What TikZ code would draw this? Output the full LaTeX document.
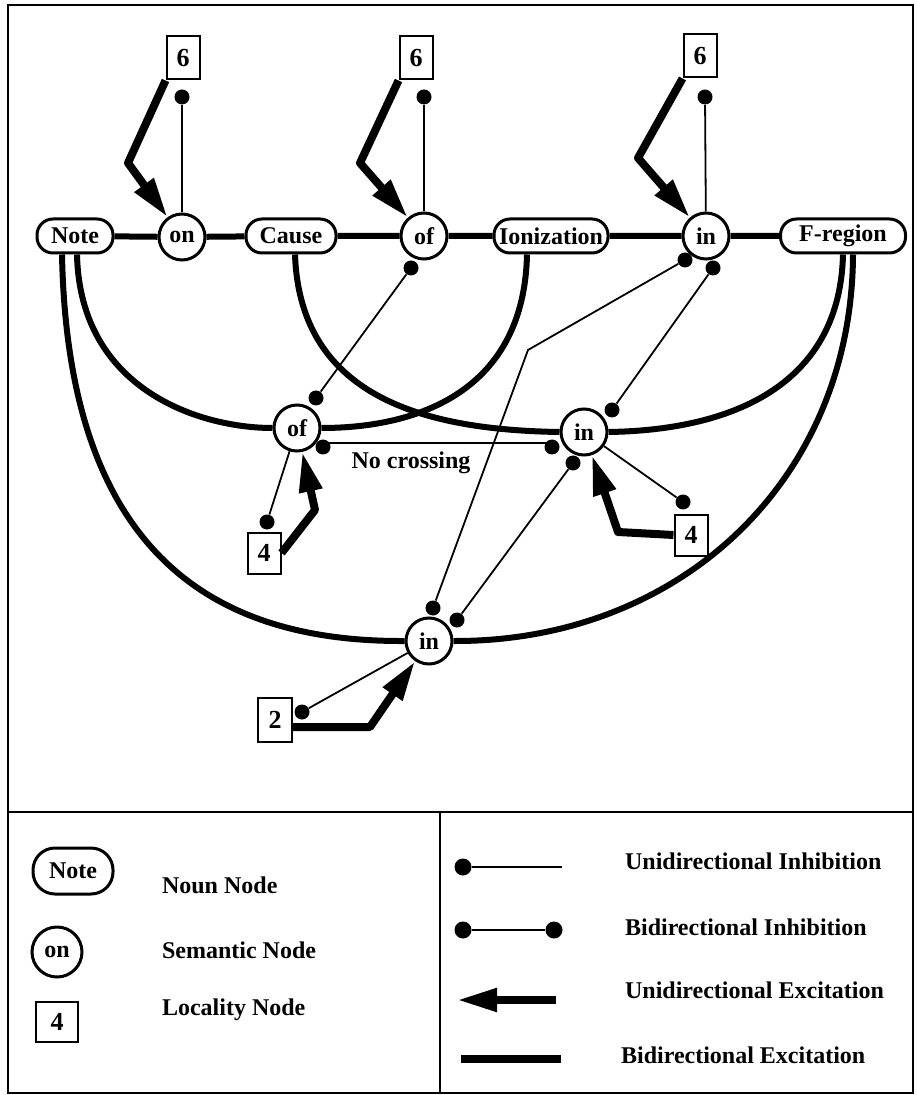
\documentclass[tikz,border=0pt]{standalone}
\usepackage{fontspec}
\setmainfont{Liberation Serif}
\usetikzlibrary{arrows.meta}
\begin{document}
\begin{tikzpicture}[x=0.5pt,y=-0.5pt,
  font=\bfseries\fontsize{12}{14}\selectfont,
  noun/.style={draw,line width=1.5pt,rounded corners=8pt,minimum height=17pt,inner sep=0pt},
  sem/.style={draw,line width=1.5pt,circle,minimum size=23pt,inner sep=0pt},
  loc/.style={draw,line width=1pt,minimum width=16.5pt,minimum height=21.5pt,inner sep=0pt,
    font=\bfseries\fontsize{13}{15}\selectfont},
  inhdot/.style={circle,fill,minimum size=7.5pt,inner sep=0pt},
  bex/.style={line width=3pt},
  uex/.style={line width=4pt,line join=round,-{Triangle[length=20pt,width=11pt]}},
  inh/.style={line width=0.9pt},
  frame/.style={line width=1pt}
]
\useasboundingbox (0,0) rectangle (916,1095);

% outer frame and legend dividers
\draw[frame] (8,5) rectangle (913,1093);
\draw[frame] (8,812) -- (913,812);
\draw[frame] (440,812) -- (440,1093);

% ---- top row: nouns and semantic nodes ----
\node[noun,minimum width=38pt] (note) at (75,236) {Note};
\node[sem] (on) at (182,237) {on};
\node[noun,minimum width=45pt] (cause) at (291,236) {Cause};
\node[sem] (ofa) at (424,236) {of};
\node[noun,minimum width=57pt] (ion) at (551,236) {Ionization};
\node[sem] (ina) at (706,236) {in};
\node[noun,minimum width=62.5pt] (freg) at (843,236) {F-region};

\draw[bex] (note) -- (on) -- (cause) -- (ofa) -- (ion) -- (ina) -- (freg);

% ---- locality nodes above the top row ----
\node[loc] (la) at (183,58) {6};
\node[loc] (lb) at (416,58) {6};
\node[loc] (lc) at (700,56) {6};

\node[inhdot] (da) at (182,97) {};
\node[inhdot] (db) at (424,97) {};
\node[inhdot] (dc) at (705,97) {};
\draw[inh] (da) -- (on);
\draw[inh] (db) -- (ofa);
\draw[inh] (dc) -- (ina);

\coordinate (ka) at (128,163);
\coordinate (kb) at (360,163);
\coordinate (kc) at (638,158);
\draw[uex] (la.south west) -- (ka) -- (on);
\draw[uex] (lb.south west) -- (kb) -- (ofa);
\draw[uex] (lc.south west) -- (kc) -- (ina);

% ---- lower semantic nodes ----
\node[sem] (ofb) at (297,428) {of};
\node[sem] (inb) at (584,432) {in};
\node[sem] (inc) at (429,641) {in};

% arcs of bidirectional excitation
\draw[bex] ([xshift=-6.5pt]note.south) .. controls (68,560) and (220,642) .. (inc.west);
\draw[bex] (inc.east) .. controls (680,642) and (852,480) .. ([xshift=5pt]freg.south);
\draw[bex] ([xshift=1pt]note.south) .. controls (80,390) and (200,428) .. (ofb.west);
\draw[bex] (ofb.east) .. controls (420,428) and (524,390) .. ([xshift=-12pt]ion.south);
\draw[bex] ([xshift=2pt]cause.south) .. controls (300,400) and (430,430) .. (inb.west);
\draw[bex] (inb.east) .. controls (740,430) and (840,380) .. (freg.south);

% bidirectional inhibition between semantic nodes
\node[inhdot] (e1) at (411,268) {};
\node[inhdot] (e2) at (316,398) {};
\draw[inh] (e1) -- (e2);
\node[inhdot] (e3) at (685,260) {};
\coordinate (kink) at (528,350);
\node[inhdot] (e4) at (433,608) {};
\draw[inh] (e3) -- (kink) -- (e4);
\node[inhdot] (e5) at (713,268) {};
\node[inhdot] (e6) at (612,410) {};
\draw[inh] (e5) -- (e6);
\node[inhdot] (e7) at (323,447) {};
\node[inhdot] (e8) at (552,447) {};
\draw[inh] ([yshift=2pt]e7.center) -- ([yshift=2pt]e8.center);
\node[inhdot] (e9) at (573,463) {};
\node[inhdot] (e10) at (457,620) {};
\draw[inh] (e9) -- (e10);

\node (nc) at (411,463) {No crossing};

% ---- lower locality nodes ----
\node[loc,minimum height=20.5pt] (ld) at (264,553) {4};
\node[loc,minimum height=20.5pt] (le) at (691,535) {4};
\node[loc,minimum width=17pt,minimum height=22pt] (lf) at (275,720) {2};

\node[inhdot] (f1) at (267,522) {};
\node[inhdot] (f2) at (683,502) {};
\node[inhdot] (f3) at (302,712) {};
\draw[inh] (f1) -- (ofb);
\draw[inh] (f2) -- (inb);
\draw[inh] (f3) -- (inc);

\coordinate (kd) at (315,510);
\coordinate (ke) at (618,532);
\coordinate (kf) at (370,727);
\draw[uex] (ld.east) -- (kd) -- (ofb);
\draw[uex] (le.west) -- (ke) -- (inb);
\draw[uex] ([yshift=-3.5pt]lf.east) -- (kf) -- (inc);

% ---- legend, node kinds ----
\node[noun,minimum width=40pt,minimum height=23pt,rounded corners=11pt] (lgnote) at (73,871) {Note};
\node[sem,minimum size=25pt] (lgon) at (57,952) {on};
\node[loc,minimum width=21pt,minimum height=20pt] (lgloc) at (57,1022) {4};
\node[anchor=west] (tnoun) at (155,885) {Noun Node};
\node[anchor=west] (tsem) at (155,950) {Semantic Node};
\node[anchor=west] (tloc) at (155,1010) {Locality Node};

% ---- legend, link kinds ----
\node[inhdot,minimum size=8.5pt] (g1) at (463,867) {};
\coordinate (g2) at (562,867);
\draw[inh] (g1) -- (g2);
\node[inhdot,minimum size=8.5pt] (g3) at (463,930) {};
\node[inhdot,minimum size=8.5pt] (g4) at (554,930) {};
\draw[inh] (g3) -- (g4);
\coordinate (g5) at (556,1000);
\coordinate (g6) at (457,1000);
\draw[uex] (g5) -- (g6);
\coordinate (g7) at (461,1059);
\coordinate (g8) at (561,1059);
\draw[bex,line width=4pt] (g7) -- (g8);

\node[anchor=west] (tui) at (618,861) {Unidirectional Inhibition};
\node[anchor=west] (tbi) at (618,927) {Bidirectional Inhibition};
\node[anchor=west] (tue) at (618,990) {Unidirectional Excitation};
\node[anchor=west] (tbe) at (614,1055) {Bidirectional Excitation};
\end{tikzpicture}
\end{document}
